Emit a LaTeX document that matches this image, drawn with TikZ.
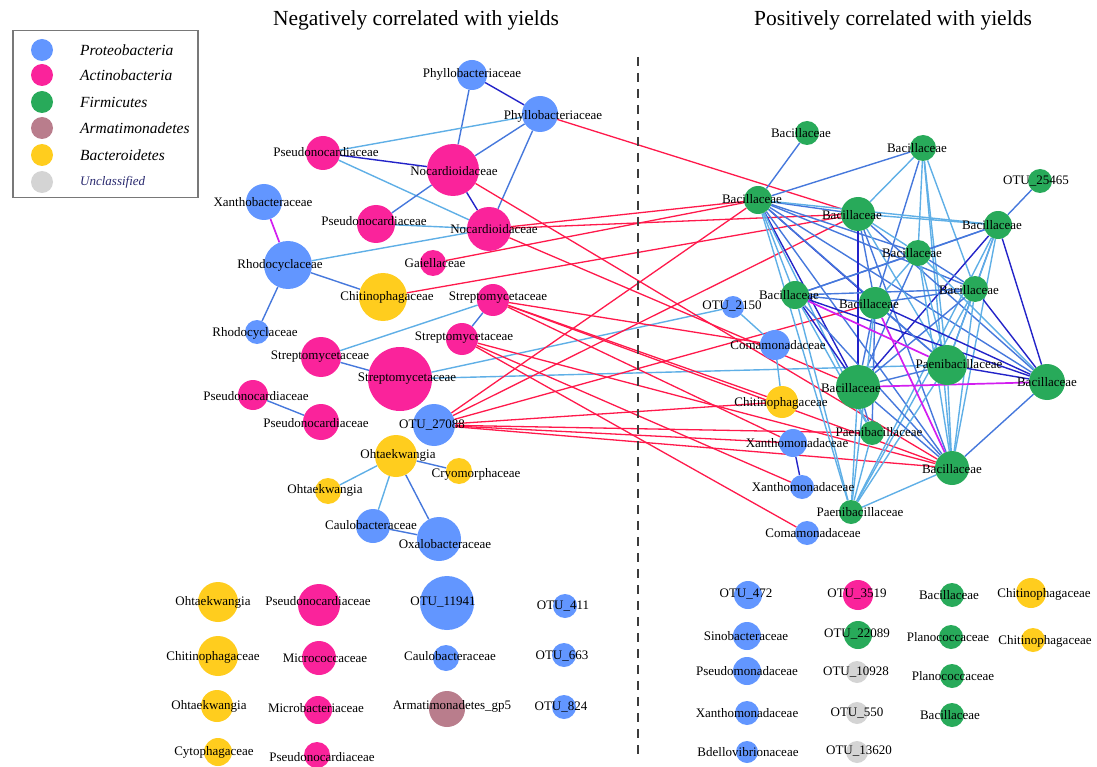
\documentclass[tikz,border=0pt]{standalone}
\usepackage{fontspec}
\setmainfont{Liberation Serif}
\pgfdeclarelayer{bg}\pgfdeclarelayer{fg}
\pgfsetlayers{bg,main,fg}
\definecolor{cP}{RGB}{98,150,255}
\definecolor{cA}{RGB}{250,35,155}
\definecolor{cF}{RGB}{40,170,90}
\definecolor{cM}{RGB}{185,125,140}
\definecolor{cB}{RGB}{255,205,30}
\definecolor{cU}{RGB}{212,212,212}
\definecolor{cEL}{RGB}{95,175,230}
\definecolor{cEM}{RGB}{70,120,220}
\definecolor{cED}{RGB}{35,35,200}
\definecolor{cEV}{RGB}{210,30,240}
\definecolor{cER}{RGB}{255,25,75}
\definecolor{cNavy}{RGB}{40,40,110}
\tikzset{
 dot/.style={circle,inner sep=0pt,draw=none},
 lbl/.style={font=\fontsize{13}{15}\selectfont,inner sep=0pt,text=black},
 eL/.style={draw=cEL,line width=1.4pt},
 eM/.style={draw=cEM,line width=1.4pt},
 eD/.style={draw=cED,line width=1.4pt},
 eV/.style={draw=cEV,line width=1.7pt},
 eR/.style={draw=cER,line width=1.3pt},
 ttl/.style={font=\fontsize{21.5}{24}\selectfont,inner sep=0pt},
 legtxt/.style={font=\fontsize{15.5}{18}\selectfont\itshape,anchor=west,inner sep=0pt},
 divider/.style={draw={rgb,255:red,60;green,60;blue,60},line width=1.8pt,dash pattern=on 9pt off 7pt},
}
\newcommand\nd[8]{%
 \node[dot,fill=#5,minimum size={2*#4pt}] (#1) at (#2,#3) {};
 \begin{pgfonlayer}{fg}\node[lbl] (#1l) at (#6,#7) {#8};\end{pgfonlayer}}
\newcommand\E[3]{\draw[#1] (#2) -- (#3);}
\begin{document}
\begin{tikzpicture}[x=1pt,y=-1pt]
\useasboundingbox (0,0) rectangle (1097,767);
% titles
\node[ttl] (t1) at (416,20) {Negatively correlated with yields};
\node[ttl] (t2) at (893,20) {Positively correlated with yields};
% divider
\coordinate (d1) at (638,57);
\coordinate (d2) at (638,757);
\draw[divider] (d1) -- (d2);
% legend
\node[draw={rgb,255:red,120;green,120;blue,120},line width=1.5pt,minimum width=185pt,minimum height=167pt,anchor=north west,inner sep=0pt] (leg) at (12,30) {};
\node[dot,fill=cP,minimum size=22pt] (g1) at (42,50) {};
\node[dot,fill=cA,minimum size=22pt] (g2) at (42,75) {};
\node[dot,fill=cF,minimum size=22pt] (g3) at (42,102) {};
\node[dot,fill=cM,minimum size=22pt] (g4) at (42,128) {};
\node[dot,fill=cB,minimum size=22pt] (g5) at (42,155) {};
\node[dot,fill=cU,minimum size=22pt] (g6) at (42,182) {};
\node[legtxt] (g1t) at (80,50) {Proteobacteria};
\node[legtxt] (g2t) at (80,75) {Actinobacteria};
\node[legtxt] (g3t) at (80,102) {Firmicutes};
\node[legtxt] (g4t) at (80,128) {Armatimonadetes};
\node[legtxt] (g5t) at (80,155) {Bacteroidetes};
\node[legtxt,font=\fontsize{13}{15}\selectfont\itshape,text=cNavy] (g6t) at (80,182) {Unclassified};
% ---------- left network
\nd{phy1}{472}{75}{15}{cP}{472}{74}{Phyllobacteriaceae}
\nd{phy2}{540}{114}{18}{cP}{553}{116}{Phyllobacteriaceae}
\nd{pse1}{323}{153}{17}{cA}{326}{152}{Pseudonocardiaceae}
\nd{noc1}{453}{170}{26}{cA}{454}{171}{Nocardioidaceae}
\nd{xan}{264}{202}{18}{cP}{263}{202}{Xanthobacteraceae}
\nd{pse2}{376}{224}{19}{cA}{374}{221}{Pseudonocardiaceae}
\nd{noc2}{489}{229}{22}{cA}{494}{229}{Nocardioidaceae}
\nd{rho1}{288}{265}{24}{cP}{280}{265}{Rhodocyclaceae}
\nd{gai}{433}{263}{13}{cA}{435}{263}{Gaiellaceae}
\nd{chiL}{383}{297}{24}{cB}{387}{297}{Chitinophagaceae}
\nd{str1}{493}{300}{16}{cA}{498}{298}{Streptomycetaceae}
\nd{rho2}{257}{332}{12}{cP}{255}{333}{Rhodocyclaceae}
\nd{str2}{462}{339}{16}{cA}{464}{338}{Streptomycetaceae}
\nd{str3}{321}{357}{20}{cA}{320}{357}{Streptomycetaceae}
\nd{strB}{400}{379}{32}{cA}{407}{379}{Streptomycetaceae}
\nd{pse3}{253}{395}{15}{cA}{256}{396}{Pseudonocardiaceae}
\nd{pse4}{321}{422}{18}{cA}{316}{423}{Pseudonocardiaceae}
\nd{otuA}{434}{425}{21}{cP}{432}{425}{OTU\_27088}
\nd{ohtB}{396}{456}{21}{cB}{398}{455}{Ohtaekwangia}
\nd{cry}{459}{471}{13}{cB}{476}{474}{Cryomorphaceae}
\nd{ohtS}{328}{491}{13}{cB}{325}{490}{Ohtaekwangia}
\nd{cau}{373}{526}{17}{cP}{371}{525}{Caulobacteraceae}
\nd{oxa}{439}{539}{22}{cP}{445}{544}{Oxalobacteraceae}
% ---------- right network
\nd{bT}{807}{133}{12}{cF}{801}{133}{Bacillaceae}
\nd{bT2}{923}{148}{13}{cF}{917}{148}{Bacillaceae}
\nd{otuB}{1040}{181}{12}{cF}{1036}{181}{OTU\_25465}
\nd{bL}{758}{200}{14}{cF}{752}{199}{Bacillaceae}
\nd{bB}{858}{214}{17}{cF}{852}{215}{Bacillaceae}
\nd{bR}{998}{225}{14}{cF}{992}{225}{Bacillaceae}
\nd{bM}{918}{253}{13}{cF}{912}{253}{Bacillaceae}
\nd{bMR}{975}{289}{13}{cF}{969}{290}{Bacillaceae}
\nd{bML}{795}{295}{14}{cF}{789}{295}{Bacillaceae}
\nd{bC}{875}{303}{16}{cF}{869}{304}{Bacillaceae}
\nd{otuC}{733}{307}{11}{cP}{732}{306}{OTU\_2150}
\nd{com}{775}{345}{15}{cP}{778}{345}{Comamonadaceae}
\nd{paeB}{947}{365}{20}{cF}{959}{364}{Paenibacillaceae}
\nd{bBig}{858}{387}{22}{cF}{851}{388}{Bacillaceae}
\nd{bFR}{1047}{382}{18}{cF}{1047}{382}{Bacillaceae}
\nd{chiR}{782}{402}{16}{cB}{781}{403}{Chitinophagaceae}
\nd{paeS}{872}{433}{12}{cF}{879}{432}{Paenibacillaceae}
\nd{xa1}{793}{443}{14}{cP}{797}{443}{Xanthomonadaceae}
\nd{bBot}{952}{468}{17}{cF}{952}{469}{Bacillaceae}
\nd{xa2}{802}{487}{12}{cP}{803}{487}{Xanthomonadaceae}
\nd{paeBot}{851}{512}{12}{cF}{860}{512}{Paenibacillaceae}
\nd{comBot}{807}{533}{12}{cP}{813}{533}{Comamonadaceae}
% ---------- isolated left
\nd{i1}{218}{602}{20}{cB}{213}{602}{Ohtaekwangia}
\nd{i2}{319}{605}{21}{cA}{318}{601}{Pseudonocardiaceae}
\nd{i3}{447}{603}{27}{cP}{443}{602}{OTU\_11941}
\nd{i4}{565}{606}{12}{cP}{563}{606}{OTU\_411}
\nd{i5}{218}{656}{20}{cB}{213}{657}{Chitinophagaceae}
\nd{i6}{319}{658}{17}{cA}{325}{658}{Micrococcaceae}
\nd{i7}{446}{658}{13}{cP}{450}{656}{Caulobacteraceae}
\nd{i8}{564}{655}{12}{cP}{562}{656}{OTU\_663}
\nd{i9}{217}{706}{16}{cB}{209}{706}{Ohtaekwangia}
\nd{i10}{318}{710}{14}{cA}{316}{708}{Microbacteriaceae}
\nd{i11}{447}{709}{18}{cM}{452}{706}{Armatimonadetes\_gp5}
\nd{i12}{564}{707}{12}{cP}{561}{707}{OTU\_824}
\nd{i13}{218}{752}{14}{cB}{214}{752}{Cytophagaceae}
\nd{i14}{317}{755}{13}{cA}{322}{757}{Pseudonocardiaceae}
% ---------- isolated right
\nd{j1}{748}{595}{14}{cP}{746}{594}{OTU\_472}
\nd{j2}{858}{595}{15}{cA}{857}{594}{OTU\_3519}
\nd{j3}{952}{595}{12}{cF}{949}{595}{Bacillaceae}
\nd{j4}{1031}{593}{15}{cB}{1044}{594}{Chitinophagaceae}
\nd{j5}{747}{636}{14}{cP}{746}{636}{Sinobacteraceae}
\nd{j6}{858}{635}{14}{cF}{857}{634}{OTU\_22089}
\nd{j7}{951}{637}{12}{cF}{948}{637}{Planococcaceae}
\nd{j8}{1033}{640}{12}{cB}{1045}{641}{Chitinophagaceae}
\nd{j9}{747}{671}{14}{cP}{747}{671}{Pseudomonadaceae}
\nd{j10}{857}{672}{11}{cU}{856}{672}{OTU\_10928}
\nd{j11}{952}{676}{12}{cF}{953}{676}{Planococcaceae}
\nd{j12}{747}{713}{12}{cP}{747}{713}{Xanthomonadaceae}
\nd{j13}{857}{713}{11}{cU}{857}{713}{OTU\_550}
\nd{j14}{952}{715}{12}{cF}{950}{715}{Bacillaceae}
\nd{j15}{747}{752}{11}{cP}{748}{752}{Bdellovibrionaceae}
\nd{j16}{857}{752}{11}{cU}{859}{751}{OTU\_13620}
% ---------- edges
\begin{pgfonlayer}{bg}
% left network
\E{eD}{phy1}{phy2}\E{eM}{phy1}{noc1}\E{eL}{phy2}{pse1}\E{eM}{phy2}{noc1}
\E{eM}{phy2}{noc2}\E{eD}{pse1}{noc1}\E{eL}{pse1}{noc2}\E{eD}{noc1}{noc2}
\E{eM}{noc1}{pse2}\E{eL}{pse2}{noc2}\E{eV}{xan}{rho1}\E{eL}{rho1}{noc2}
\E{eM}{rho1}{chiL}\E{eM}{rho1}{rho2}\E{eM}{str1}{str2}\E{eL}{str3}{str1}
\E{eM}{str3}{strB}\E{eL}{strB}{otuC}\E{eL}{strB}{paeB}\E{eM}{pse3}{pse4}
\E{eM}{ohtB}{cry}\E{eL}{ohtB}{ohtS}\E{eL}{ohtB}{cau}\E{eM}{ohtB}{oxa}
\E{eM}{cau}{oxa}
% red cross links
\E{eR}{phy2}{bB}\E{eR}{noc1}{bBot}\E{eR}{noc2}{bB}\E{eR}{noc2}{bL}
\E{eR}{noc2}{bBig}\E{eR}{gai}{bL}\E{eR}{chiL}{bB}
\E{eR}{otuA}{bL}\E{eR}{otuA}{bB}\E{eR}{otuA}{bC}\E{eR}{otuA}{chiR}
\E{eR}{otuA}{paeS}\E{eR}{otuA}{bBot}\E{eR}{otuA}{xa1}
\E{eR}{str1}{com}\E{eR}{str1}{chiR}\E{eR}{str1}{xa1}\E{eR}{str1}{bBot}
\E{eR}{str2}{bBot}\E{eR}{str2}{xa2}\E{eR}{str2}{comBot}
% right network
\E{eM}{bT}{bL}\E{eM}{bT2}{bL}\E{eL}{bT2}{bB}\E{eL}{bT2}{bM}\E{eM}{bT2}{bC}
\E{eL}{bT2}{paeB}\E{eL}{bT2}{bMR}\E{eL}{bT2}{bBot}\E{eM}{otuB}{bR}
\E{eM}{bL}{bB}\E{eL}{bL}{bR}\E{eM}{bL}{bM}\E{eM}{bL}{bMR}\E{eD}{bL}{bC}
\E{eL}{bL}{bML}\E{eD}{bL}{bBig}\E{eM}{bL}{paeB}\E{eM}{bL}{bBot}
\E{eL}{bL}{paeBot}\E{eL}{bL}{paeS}\E{eM}{bL}{bFR}
\E{eL}{bB}{bM}\E{eM}{bB}{bC}\E{eD}{bB}{bBig}\E{eM}{bB}{bBot}\E{eL}{bB}{paeB}
\E{eM}{bB}{bFR}\E{eL}{bB}{bR}
\E{eM}{bR}{bM}\E{eM}{bR}{bML}\E{eD}{bR}{bBig}\E{eD}{bR}{bFR}\E{eL}{bR}{bBot}
\E{eM}{bR}{paeB}\E{eL}{bR}{paeBot}\E{eL}{bR}{bMR}
\E{eM}{bM}{bML}\E{eL}{bM}{bC}\E{eL}{bM}{paeB}\E{eM}{bM}{bBig}\E{eL}{bM}{bBot}
\E{eM}{bM}{bMR}\E{eL}{bM}{bFR}
\E{eM}{bMR}{bML}\E{eM}{bMR}{bC}\E{eM}{bMR}{bBig}\E{eL}{bMR}{bBot}
\E{eL}{bMR}{paeBot}\E{eL}{bMR}{paeB}\E{eD}{bMR}{bFR}
\E{eM}{bML}{bC}\E{eD}{bML}{bBig}\E{eL}{bML}{paeBot}\E{eD}{bML}{bFR}
\E{eL}{bML}{paeS}\E{eM}{bML}{bBot}
\E{eM}{bC}{paeB}\E{eM}{bC}{bBig}\E{eD}{bC}{bFR}\E{eL}{bC}{paeBot}\E{eM}{bC}{paeS}
\E{eL}{otuC}{com}\E{eL}{com}{chiR}
\E{eM}{paeB}{bBig}\E{eD}{paeB}{bFR}\E{eL}{paeB}{bBot}\E{eL}{paeB}{paeBot}
\E{eM}{bBig}{bBot}\E{eL}{bBig}{paeBot}\E{eM}{bBig}{paeS}
\E{eM}{bFR}{bBot}\E{eD}{xa1}{xa2}\E{eL}{bBot}{paeBot}\E{eL}{paeS}{paeBot}
% magenta
\E{eV}{bML}{paeB}\E{eV}{bC}{bBot}\E{eV}{bBig}{bFR}
\end{pgfonlayer}
\end{tikzpicture}
\end{document}
